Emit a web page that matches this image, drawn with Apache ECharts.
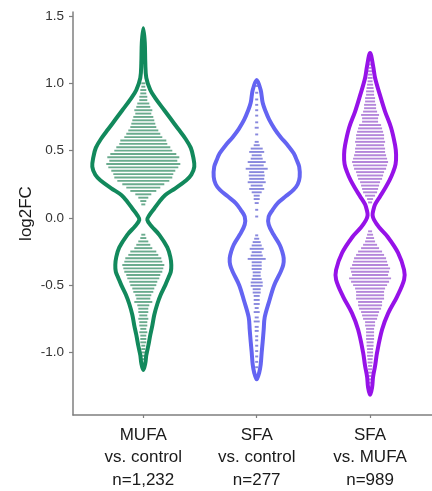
<!DOCTYPE html>
<html>
<head>
<meta charset="utf-8">
<script src="https://cdn.jsdelivr.net/npm/echarts@6/dist/echarts.min.js"></script>
<style>
html,body{margin:0;padding:0;background:#fff;}
#chart{width:432px;height:491px;}
</style>
</head>
<body>
<div id="chart"></div>
<script>
// ---------- DATA ----------
const groupNames = ['MUFA', 'SFA', 'SFA'];
const groupComparisons = ['vs. control', 'vs. control', 'vs. MUFA'];
const groupCounts = ['n=1,232', 'n=277', 'n=989'];
const groupPositions = [1, 2, 3];
const yTickValues = [-1.0, -0.5, 0.0, 0.5, 1.0, 1.5];

// violin outlines: log2FC levels and half-width (density, width units)
const mufaOutlineY = [1.41, 1.30, 1.15, 1.04, 0.95, 0.89, 0.80, 0.74, 0.66, 0.59, 0.52, 0.45, 0.38, 0.32, 0.28, 0.22, 0.17, 0.12, 0.07, 0.02, -0.015, -0.06, -0.126, -0.22, -0.29, -0.35, -0.40, -0.446, -0.50, -0.57, -0.64, -0.72, -0.80, -0.87, -0.95, -1.02, -1.08, -1.13];
const mufaOutlineW = [0, 1.5, 2, 3, 7, 12, 21, 27, 35, 42, 47.5, 50, 51, 48, 43, 32, 22, 16, 11, 6, 4, 8, 16, 24, 27, 28, 27.5, 25, 22, 17.5, 14, 11, 9, 7, 5, 3, 2, 0];

const sfaCtlOutlineY = [1.025, 0.95, 0.855, 0.79, 0.73, 0.66, 0.60, 0.54, 0.48, 0.43, 0.38, 0.305, 0.25, 0.21, 0.16, 0.11, 0.06, 0.01, -0.05, -0.126, -0.2, -0.25, -0.3, -0.35, -0.4, -0.5, -0.62, -0.74, -0.83, -0.92, -1.0, -1.09, -1.15, -1.2];
const sfaCtlOutlineW = [0, 4, 6, 9, 12.5, 18, 24, 31, 37, 40, 42.5, 43, 41, 37, 29, 21, 16, 12, 12, 17, 23, 25.5, 27, 26.5, 24, 17.5, 12.5, 8, 7, 6, 5, 4, 2.5, 0];

const sfaMufaOutlineY = [1.226, 1.13, 1.04, 0.91, 0.79, 0.67, 0.54, 0.47, 0.40, 0.34, 0.28, 0.22, 0.16, 0.10, 0.05, 0.02, -0.015, -0.07, -0.14, -0.26, -0.386, -0.46, -0.585, -0.71, -0.83, -1.0, -1.10, -1.18, -1.26, -1.315];
const sfaMufaOutlineW = [0, 3, 5, 10, 15, 21, 25, 26, 25.5, 23, 19.5, 15, 10, 5, 3, 2.5, 4, 9, 17.5, 28, 34, 34, 27, 18, 12, 7, 5, 3, 2, 0];

// stacked-dot rows: [log2FC bin, half-width of the row in dot units]
const mufaRows = [[1.00,2],[0.975,2],[0.95,3],[0.925,3],[0.90,4],[0.875,4],[0.85,6],[0.825,7],[0.80,9],[0.775,8],[0.75,10],[0.725,11],[0.70,12],[0.675,13],[0.65,15],[0.625,17],[0.60,19],[0.575,23],[0.55,24],[0.525,27],[0.50,29],[0.475,33],[0.45,36],[0.425,34],[0.40,37],[0.375,35],[0.35,32],[0.325,30],[0.30,29],[0.275,26],[0.25,21],[0.225,17],[0.20,13],[0.175,8],[0.15,5],[0.125,3],[0.10,2],
  [-0.125,2],[-0.15,3],[-0.175,5],[-0.20,7],[-0.225,9],[-0.25,13],[-0.275,15],[-0.30,18],[-0.325,19],[-0.35,21],[-0.375,20],[-0.40,19],[-0.425,17],[-0.45,16],[-0.475,14],[-0.50,13],[-0.525,11],[-0.55,10],[-0.575,8],[-0.60,7],[-0.625,9],[-0.65,6],[-0.675,5],[-0.70,5],[-0.725,4],[-0.75,5],[-0.775,4],[-0.80,4],[-0.825,3],[-0.85,4],[-0.875,3],[-0.90,3],[-0.925,3],[-0.95,2],[-0.975,2],[-1.00,2],[-1.025,2],[-1.05,1.5]];

const sfaCtlRows = [[0.98,1.5],[0.93,1.5],[0.88,1.5],[0.84,1.5],[0.80,1.5],[0.76,1.5],[0.71,1.5],[0.67,2],[0.62,1.5],[0.565,2],[0.54,3],[0.515,6],[0.49,7.5],[0.465,5],[0.44,6],[0.415,9],[0.39,7],[0.365,11],[0.34,7.5],[0.315,8],[0.29,7.5],[0.265,9],[0.24,6],[0.215,7.5],[0.19,5],[0.165,3],[0.14,3],[0.11,2],[0.06,1.5],[0.01,1.5],
  [-0.13,1.5],[-0.155,2.5],[-0.18,4],[-0.205,5],[-0.23,7],[-0.255,5],[-0.28,6],[-0.305,9],[-0.33,5],[-0.355,5],[-0.38,5],[-0.405,4],[-0.43,4],[-0.455,5],[-0.48,6],[-0.505,6],[-0.53,4],[-0.555,4],[-0.58,3],[-0.61,3],[-0.64,3],[-0.67,2],[-0.70,3],[-0.74,2],[-0.77,3],[-0.81,2],[-0.84,2],[-0.88,1.5],[-0.91,1.5],[-0.95,1.5],[-0.99,1.5],[-1.03,1.5],[-1.07,1.5],[-1.11,1.5]];

const sfaMufaRows = [[1.14,1.5],[1.115,1.5],[1.09,2],[1.065,2],[1.04,2.5],[1.015,2.5],[0.99,3],[0.965,3.5],[0.94,4],[0.915,4],[0.89,5],[0.865,5],[0.84,6],[0.815,6],[0.79,7],[0.765,9],[0.74,8],[0.715,8],[0.69,11],[0.665,12],[0.64,13],[0.615,14],[0.59,14],[0.565,15],[0.54,14],[0.515,15],[0.49,15],[0.465,16],[0.44,17],[0.415,18],[0.39,17],[0.365,16],[0.34,14],[0.315,13],[0.29,12],[0.265,10],[0.24,9],[0.215,8],[0.19,7],[0.165,5],[0.14,3],[0.115,2],
  [-0.10,2],[-0.125,3],[-0.15,4],[-0.175,5],[-0.20,7],[-0.225,9],[-0.25,12],[-0.275,14],[-0.30,16],[-0.325,17],[-0.35,18],[-0.375,20],[-0.40,19],[-0.425,18],[-0.45,21],[-0.475,19],[-0.50,17],[-0.525,15],[-0.55,14],[-0.575,14],[-0.60,14],[-0.625,12],[-0.65,12],[-0.675,11],[-0.70,9],[-0.725,8],[-0.75,7],[-0.775,5],[-0.80,5],[-0.825,4],[-0.85,4],[-0.875,4],[-0.90,4],[-0.925,3.5],[-0.95,3.5],[-0.975,3],[-1.00,3],[-1.025,3],[-1.05,2.5],[-1.075,2.5],[-1.10,2],[-1.125,2],[-1.15,2],[-1.175,1.5],[-1.20,1.5],[-1.225,1.5]];

// ---------- STYLE ----------
const WIDTH_SCALE = 1 / 113.4; // width units -> x-axis units
const lineColors = ['#12895c', '#6464f2', '#9612e8'];
const rowColors = ['#6aab8e', '#8888dd', '#b486da'];

const violins = [
  {outY: mufaOutlineY, outW: mufaOutlineW, rows: mufaRows},
  {outY: sfaCtlOutlineY, outW: sfaCtlOutlineW, rows: sfaCtlRows},
  {outY: sfaMufaOutlineY, outW: sfaMufaOutlineW, rows: sfaMufaRows}
];

function makeRender(v, idx) {
  return function (params, api) {
    const cx = api.value(0);
    const children = [];
    v.rows.forEach(function (r) {
      const p1 = api.coord([cx - r[1] * WIDTH_SCALE, r[0]]);
      const p2 = api.coord([cx + r[1] * WIDTH_SCALE, r[0]]);
      children.push({
        type: 'line',
        shape: {x1: p1[0], y1: p1[1], x2: p2[0], y2: p2[1]},
        style: {stroke: rowColors[idx], lineWidth: 1.9, lineCap: 'butt'}
      });
    });
    const pts = [];
    for (let i = 0; i < v.outY.length; i++) {
      pts.push(api.coord([cx + v.outW[i] * WIDTH_SCALE, v.outY[i]]));
    }
    for (let i = v.outY.length - 2; i >= 1; i--) {
      pts.push(api.coord([cx - v.outW[i] * WIDTH_SCALE, v.outY[i]]));
    }
    children.push({
      type: 'polygon',
      shape: {points: pts, smooth: 0.35},
      style: {fill: 'none', stroke: lineColors[idx], lineWidth: 4, lineJoin: 'round'}
    });
    return {type: 'group', children: children};
  };
}

const chart = echarts.init(document.getElementById('chart'), null, {renderer: 'canvas'});
const font = 'Liberation Sans, Arial, sans-serif';

chart.setOption({
  animation: false,
  backgroundColor: '#ffffff',
  grid: {left: 73, right: 0, top: 12, bottom: 76, containLabel: false, outerBoundsMode: 'none'},
  xAxis: {
    type: 'value',
    min: 0.38,
    max: 3.546,
    splitLine: {show: false},
    axisLine: {show: true, onZero: false, lineStyle: {color: '#7f7f7f', width: 1.5}},
    axisTick: {show: true, length: 3, customValues: groupPositions, lineStyle: {color: '#7f7f7f', width: 1.2}},
    axisLabel: {
      customValues: groupPositions,
      margin: 9,
      fontSize: 17,
      lineHeight: 22.5,
      color: '#1a1a1a',
      fontFamily: font,
      formatter: function (val) {
        const i = groupPositions.indexOf(Math.round(val));
        if (i < 0) return '';
        return groupNames[i] + '\n' + groupComparisons[i] + '\n' + groupCounts[i];
      }
    }
  },
  yAxis: {
    type: 'value',
    min: -1.465,
    max: 1.53,
    name: 'log2FC',
    nameLocation: 'middle',
    nameRotate: 90,
    nameGap: 38,
    nameMoveOverlap: false,
    nameTextStyle: {fontSize: 17, color: '#1a1a1a', fontFamily: font},
    splitLine: {show: false},
    axisLine: {show: true, onZero: false, lineStyle: {color: '#7f7f7f', width: 1.5}},
    axisTick: {show: true, length: 4, customValues: yTickValues, lineStyle: {color: '#7f7f7f', width: 1.2}},
    axisLabel: {
      customValues: yTickValues,
      margin: 9,
      fontSize: 13.5,
      color: '#333333',
      fontFamily: font,
      formatter: function (val) { return val.toFixed(1); }
    }
  },
  series: violins.map(function (v, idx) {
    return {
      type: 'custom',
      clip: false,
      renderItem: makeRender(v, idx),
      data: [[groupPositions[idx], 0]],
      encode: {x: 0, y: 1}
    };
  })
});
</script>
</body>
</html>
